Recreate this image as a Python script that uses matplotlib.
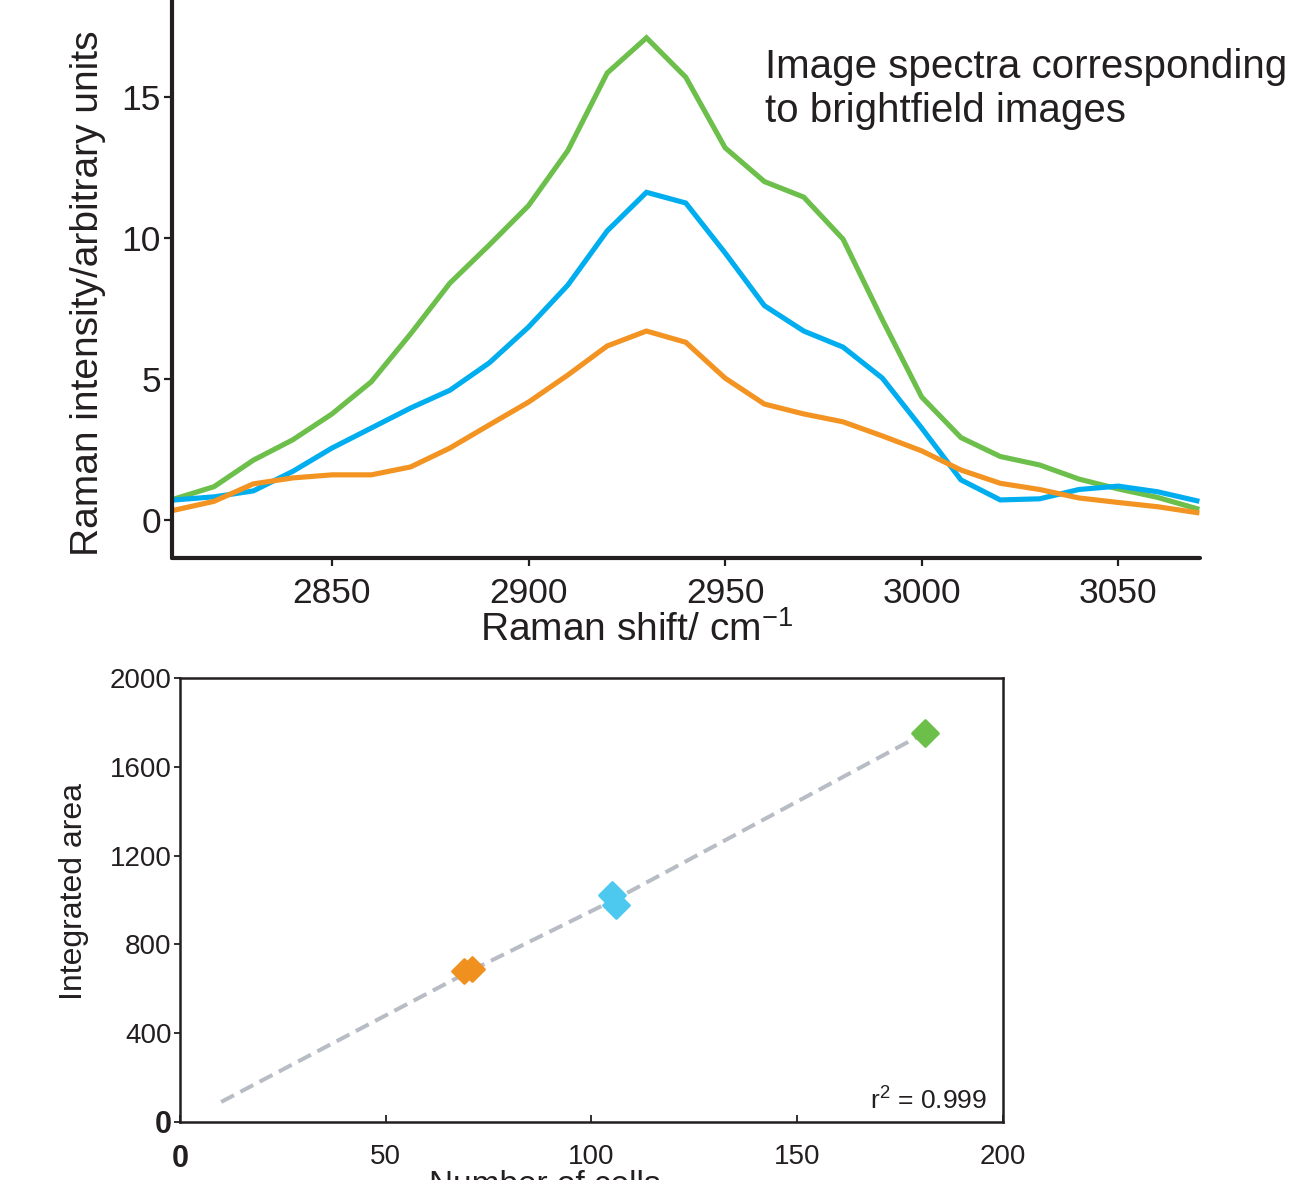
import numpy as np
import matplotlib.pyplot as plt
from matplotlib.markers import MarkerStyle

plt.rcParams['font.family'] = ['Liberation Sans', 'DejaVu Sans']
plt.rcParams['mathtext.fontset'] = 'custom'
plt.rcParams['mathtext.rm'] = 'Liberation Sans'

# Raman spectra (top panel)
shift = [2810, 2820, 2830, 2840, 2850, 2860, 2870, 2880, 2890, 2900, 2910, 2920, 2930, 2940,
         2950, 2960, 2970, 2980, 2990, 3000, 3010, 3020, 3030, 3040, 3050, 3060, 3070]
green_spec = [0.75, 1.18, 2.12, 2.84, 3.76, 4.9, 6.6, 8.4, 9.75, 11.15, 13.1, 15.85, 17.1, 15.7,
              13.2, 12.0, 11.45, 9.96, 7.1, 4.36, 2.92, 2.25, 1.95, 1.45, 1.1, 0.8, 0.4]
blue_spec = [0.71, 0.82, 1.03, 1.72, 2.55, 3.26, 3.97, 4.6, 5.57, 6.84, 8.33, 10.25, 11.62, 11.24,
             9.47, 7.6, 6.7, 6.13, 5.03, 3.26, 1.42, 0.71, 0.75, 1.08, 1.2, 1.0, 0.68]
orange_spec = [0.35, 0.66, 1.28, 1.49, 1.6, 1.6, 1.88, 2.55, 3.37, 4.18, 5.14, 6.17, 6.7, 6.3,
               5.03, 4.11, 3.76, 3.48, 2.98, 2.45, 1.77, 1.3, 1.08, 0.78, 0.62, 0.47, 0.26]

# Integrated area vs number of cells (bottom panel)
orange_cells = [69, 71]
orange_area = [680, 690]
blue_cells = [105, 106]
blue_area = [1020, 978]
green_cells = [181]
green_area = [1752]
fit_cells = [10, 70, 106, 181]
fit_area = [90, 675, 1005, 1752]

dark = '#231f20'
c_green = '#6cbf4a'
c_blue = '#00aeef'
c_orange = '#f39322'

fig = plt.figure(figsize=(12.92, 11.8), dpi=100)

# ---- top panel ----
ax1 = fig.add_axes([0.1331, 0.5271, 0.7957, 0.4729])
ax1.plot(shift, green_spec, color=c_green, lw=3.7, solid_joinstyle='miter')
ax1.plot(shift, blue_spec, color=c_blue, lw=3.7, solid_joinstyle='miter')
ax1.plot(shift, orange_spec, color=c_orange, lw=3.7, solid_joinstyle='miter')
ax1.set_xlim(2809.3, 3070.8)
ax1.set_ylim(-1.35, 18.44)
ax1.set_xticks([2850, 2900, 2950, 3000, 3050])
ax1.set_yticks([0, 5, 10, 15])
for s in ['top', 'right']:
    ax1.spines[s].set_visible(False)
for s in ['left', 'bottom']:
    ax1.spines[s].set_linewidth(3)
    ax1.spines[s].set_color(dark)
    ax1.spines[s].set_capstyle('round')
ax1.tick_params(axis='both', direction='out', length=6, width=1.6, color=dark,
                labelsize=25.5, labelcolor=dark)
ax1.tick_params(axis='y', pad=2)
ax1.tick_params(axis='x', pad=8)

fig.text(88 / 1292, 1 - 293 / 1180, 'Raman intensity/arbitrary units', rotation=90,
         ha='center', va='center', fontsize=28, color=dark)
fig.text(0.493, 1 - 641 / 1180, r'Raman shift/ cm$\mathregular{^{-1}}$', ha='center',
         va='baseline', fontsize=28, color=dark)
fig.text(765 / 1292, 1 - 78 / 1180, 'Image spectra corresponding', ha='left',
         va='baseline', fontsize=29, color=dark)
fig.text(765 / 1292, 1 - 122 / 1180, 'to brightfield images', ha='left',
         va='baseline', fontsize=29, color=dark)

# ---- bottom panel ----
ax2 = fig.add_axes([0.1393, 0.0492, 0.637, 0.3763])
ax2.plot(fit_cells, fit_area, color='#b8bdc5', lw=2.9, dashes=(3.6, 1.8),
         dash_capstyle='butt')
diamond = MarkerStyle('D', joinstyle='round')
ax2.plot(orange_cells, orange_area, ls='none', marker=diamond, ms=12, color='#f0901e',
         mec='#f0901e', mew=2)
ax2.plot(blue_cells, blue_area, ls='none', marker=diamond, ms=13, color='#4dc8ef',
         mec='#4dc8ef', mew=2)
ax2.plot(green_cells, green_area, ls='none', marker=diamond, ms=13, color='#6cc04a',
         mec='#6cc04a', mew=2)
ax2.set_xlim(0, 200)
ax2.set_ylim(0, 2000)
ax2.set_xticks([0, 50, 100, 150, 200])
ax2.set_yticks([0, 400, 800, 1200, 1600, 2000])
for s in ax2.spines.values():
    s.set_linewidth(1.8)
    s.set_color(dark)
ax2.tick_params(axis='y', direction='out', length=4.5, width=1.3, pad=1.5,
                labelsize=20, color=dark, labelcolor=dark)
ax2.tick_params(axis='x', direction='in', length=5, width=1.3, pad=16,
                labelsize=20, color=dark, labelcolor=dark)
ax2.get_yticklabels()[0].set_fontweight('bold')
ax2.get_yticklabels()[0].set_fontsize(22)
ax2.get_xticklabels()[0].set_fontweight('bold')
ax2.get_xticklabels()[0].set_fontsize(22)

ax2.text(0.98, 0.027, r'$\mathregular{r^2}$ = 0.999', transform=ax2.transAxes,
         ha='right', va='baseline', fontsize=19, color=dark)
fig.text(74 / 1292, 1 - 891 / 1180, 'Integrated area',
         rotation=90, ha='center', va='center', fontsize=23, color=dark)
fig.text(545 / 1292, 1 - 1194 / 1180, 'Number of cells', ha='center', va='baseline',
         fontsize=24, color=dark)

fig.savefig('out.png', dpi=100)
